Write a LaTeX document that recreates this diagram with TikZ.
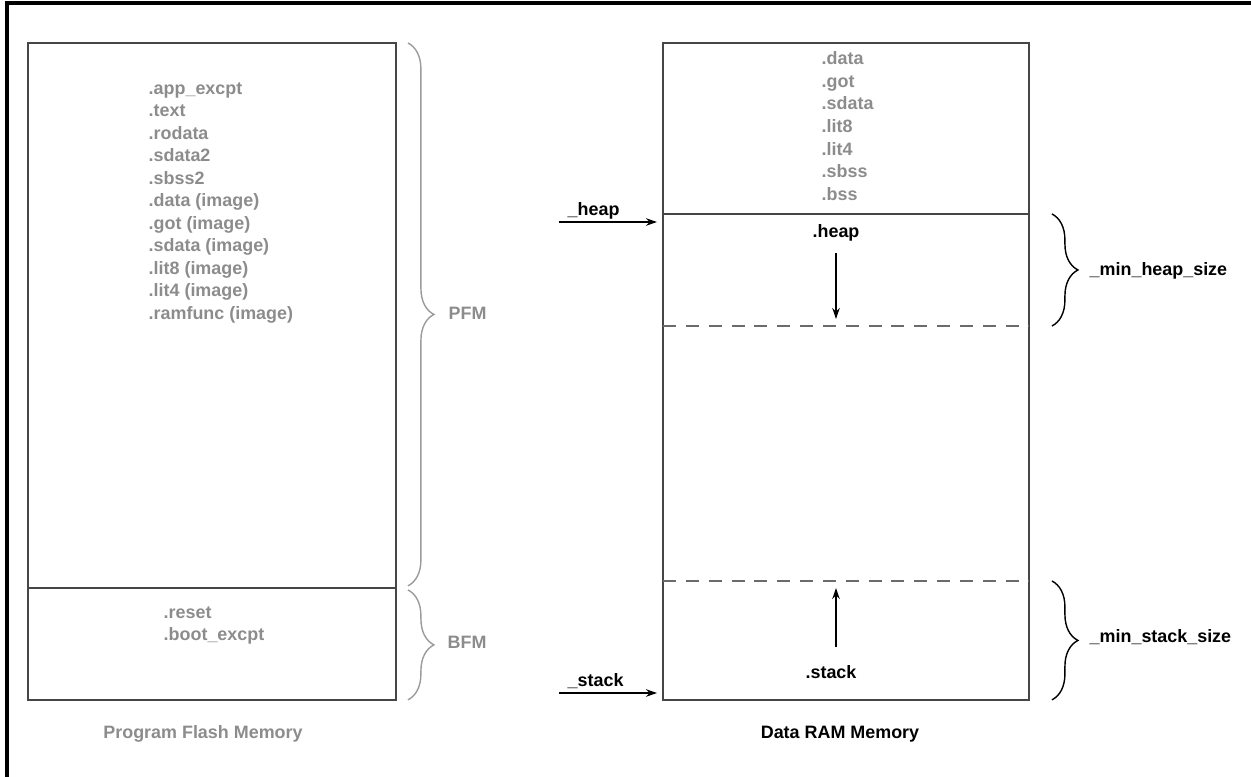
\documentclass[tikz,border=0pt]{standalone}
\usepackage{fontspec}
\setmainfont{Liberation Sans}
\usepackage{tikz}
\usetikzlibrary{positioning,decorations.pathreplacing,arrows.meta}

\definecolor{secgray}{RGB}{140,140,140}
\definecolor{boxgray}{RGB}{70,70,70}
\definecolor{bracegray}{RGB}{155,155,155}

\begin{document}
\begin{tikzpicture}[x=0.02cm,y=-0.02cm,>={Stealth[length=2.2mm,width=1.5mm]},thick]

\tikzstyle{region}=[draw=boxgray,line width=1.1pt,anchor=north west,inner sep=0pt,outer sep=0pt]
\tikzstyle{sect}=[text=secgray,font=\fontsize{10.2pt}{12pt}\selectfont\bfseries,anchor=base west,inner sep=0pt]
\tikzstyle{lbl}=[text=black,font=\fontsize{10.2pt}{12pt}\selectfont\bfseries,inner sep=0pt]
\tikzstyle{limit}=[draw=boxgray!80,line width=1.1pt,dash pattern=on 7.4pt off 5.6pt]
\tikzstyle{brc}=[decorate,decoration={brace,amplitude=0.52cm},line width=0.8pt]

\useasboundingbox (0,0) rectangle (1251,777);
\draw[line width=2.3pt] (7,777) -- (7,3) -- (1251,3);

% program flash
\node[region,minimum width=7.36cm,minimum height=10.9cm] (pfm) at (28,43) {};
\node[region,minimum width=7.36cm,minimum height=2.24cm] (bfm) at (pfm.south west) {};

\foreach \s [count=\i from 0] in {.app\_excpt,.text,.rodata,.sdata2,.sbss2,.data (image),.got (image),.sdata (image),.lit8 (image),.lit4 (image),.ramfunc (image)}
    \node[sect] (p\i) at (148,94+22.5*\i) {\s};

\foreach \s [count=\i from 0] in {.reset,.boot\_excpt}
    \node[sect] (b\i) at (163,618+22.5*\i) {\s};

\draw[brc,draw=bracegray] ([xshift=0.24cm]pfm.north east) -- ([xshift=0.24cm,yshift=0.04cm]pfm.south east);
\draw[brc,draw=bracegray] ([xshift=0.24cm,yshift=-0.04cm]bfm.north east) -- ([xshift=0.24cm]bfm.south east);
\node[sect] (pfmlbl) at (448,319) {PFM};
\node[sect] (bfmlbl) at (447,648) {BFM};

\node[sect,anchor=base] (flashlbl) at (203,738) {Program Flash Memory};

% data ram
\node[region,minimum width=7.32cm,minimum height=3.42cm] (ramstatic) at (663,43) {};
\node[region,minimum width=7.32cm,minimum height=9.72cm] (ramfree) at (ramstatic.south west) {};

\foreach \s [count=\i from 0] in {.data,.got,.sdata,.lit8,.lit4,.sbss,.bss}
    \node[sect] (r\i) at (821,65+22.5*\i) {\s};

\coordinate (heapmin) at (663,326);
\coordinate (stackmin) at (663,581);
\draw[limit] (heapmin) -- (heapmin -| ramfree.east);
\draw[limit] (stackmin) -- (stackmin -| ramfree.east);

\node[lbl,anchor=base] (heap) at (836,237) {.heap};
\node[lbl,anchor=base] (stack) at (831,678) {.stack};
\draw[->,line width=0.8pt,shorten <=0.24cm,shorten >=0.14cm] (heap.south) -- (heap |- heapmin);
\draw[->,line width=0.8pt,shorten <=0.34cm,shorten >=0.14cm] ([xshift=0.1cm]stack.north) -- ([xshift=0.1cm]stack |- stackmin);

\node[lbl,anchor=base west] (heapsym) at (567,215) {\_heap};
\node[lbl,anchor=base west] (stacksym) at (567,686) {\_stack};
\coordinate (heapin) at (559,222);
\coordinate (stackin) at (559,693);
\draw[->,line width=1.1pt,shorten >=0.12cm] (heapin) -- (heapin -| ramfree.west);
\draw[->,line width=1.1pt,shorten >=0.12cm] (stackin) -- (stackin -| ramfree.west);

\draw[brc] ([xshift=0.46cm]ramfree.north east) -- ([xshift=0.46cm]heapmin -| ramfree.east);
\draw[brc] ([xshift=0.46cm]stackmin -| ramfree.east) -- ([xshift=0.46cm]ramfree.south east);
\node[lbl,anchor=base west] (minheap) at (1089,275) {\_min\_heap\_size};
\node[lbl,anchor=base west] (minstack) at (1089,642) {\_min\_stack\_size};

\node[lbl,anchor=base] (ramlbl) at (840,738) {Data RAM Memory};

\end{tikzpicture}
\end{document}
